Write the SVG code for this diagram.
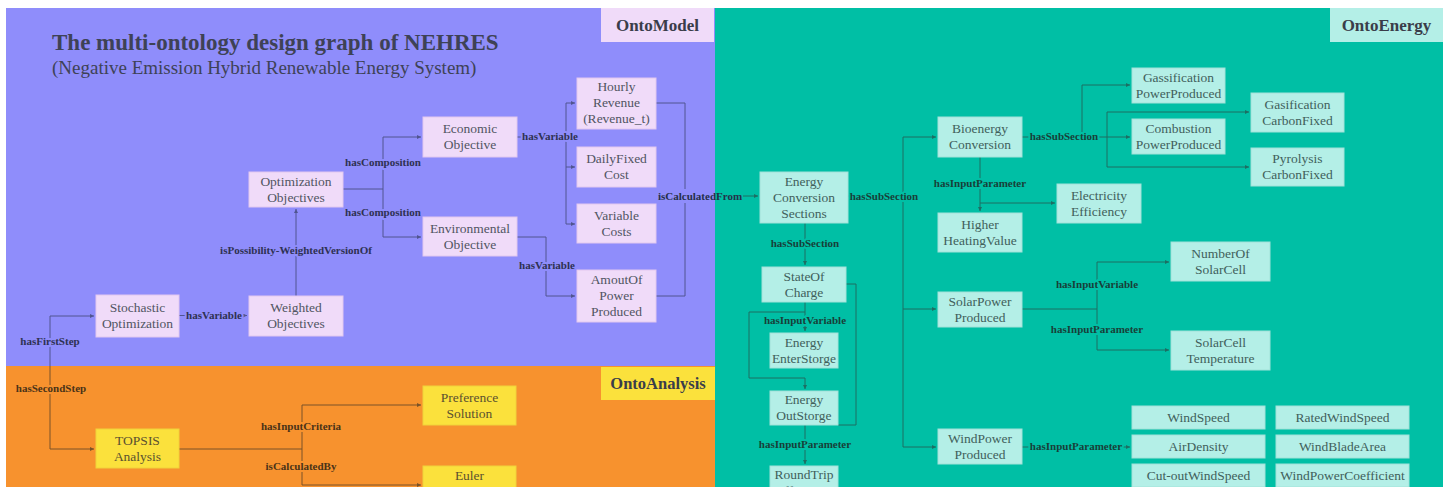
<svg xmlns="http://www.w3.org/2000/svg" width="1448" height="487" viewBox="0 0 1448 487">
<style>
text{font-family:"Liberation Serif","Times New Roman",serif}
.nt{font-size:13.5px;text-anchor:middle;fill:#505562}
.ntt{font-size:13.5px;text-anchor:middle;fill:#41605b}
.np{fill:#f0dbf9;stroke:#e2c8ef;stroke-width:1}
.ny{fill:#fbe13c;stroke:#f0d23a;stroke-width:1}
.nc{fill:#b4efe7;stroke:#a2e2d9;stroke-width:1}
.lb{font-size:11px;font-weight:bold;text-anchor:middle;paint-order:stroke;stroke-width:4px;stroke-linejoin:round}
.lp{fill:#2e3152;stroke:#8f8dfb}
.lo{fill:#4a3318;stroke:#f7922e}
.lt{fill:#183f39;stroke:#00bfa5}
.cp{fill:none;stroke:#505590;stroke-width:1}
.co{fill:none;stroke:#7a5328;stroke-width:1}
.ct{fill:none;stroke:#1d6e63;stroke-width:1}
.ttl{font-size:17px;font-weight:bold;text-anchor:middle;fill:#3a3d4a}
</style>
<defs>
<marker id="ap" viewBox="0 0 6 6" refX="6" refY="3" markerWidth="4" markerHeight="4" orient="auto"><path d="M0,0L6,3L0,6z" fill="#505590"/></marker>
<marker id="ao" viewBox="0 0 6 6" refX="6" refY="3" markerWidth="4" markerHeight="4" orient="auto"><path d="M0,0L6,3L0,6z" fill="#7a5328"/></marker>
<marker id="at" viewBox="0 0 6 6" refX="6" refY="3" markerWidth="4" markerHeight="4" orient="auto"><path d="M0,0L6,3L0,6z" fill="#1d6e63"/></marker>
</defs>
<rect width="1448" height="487" fill="#ffffff"/>
<g id="regions">
<rect x="6" y="8" width="709" height="358" fill="#8f8dfb"/>
<rect x="6" y="366" width="709" height="121" fill="#f7922e"/>
<rect x="715" y="8" width="728" height="479" fill="#00bfa5"/>
</g>
<g id="region-labels">
<g id="OntoModel"><rect x="601" y="8" width="113" height="34" fill="#f0dbf9"/><text class="ttl" x="657.5" y="31">OntoModel</text></g>
<g id="OntoEnergy"><rect x="1330" y="8" width="113" height="34" fill="#b4efe7"/><text class="ttl" x="1386.5" y="31">OntoEnergy</text></g>
<g id="OntoAnalysis"><rect x="601" y="367" width="114" height="33" fill="#fbe13c"/><text class="ttl" x="658" y="389" style="font-size:16.5px">OntoAnalysis</text></g>
</g>
<g id="title">
<text x="52" y="50" style="font-size:23px;font-weight:bold;fill:#3e4256">The multi-ontology design graph of NEHRES</text>
<text x="52" y="74" style="font-size:19px;fill:#3e4256">(Negative Emission Hybrid Renewable Energy System)</text>
</g>
<g id="connectors">
<path class="cp" d="M343,189H383V137H421" marker-end="url(#ap)"/>
<path class="cp" d="M383,189V237H421" marker-end="url(#ap)"/>
<path class="cp" d="M517,137H566V103H575" marker-end="url(#ap)"/>
<path class="cp" d="M566,137V224H575" marker-end="url(#ap)"/>
<path class="cp" d="M566,167H575" marker-end="url(#ap)"/>
<path class="cp" d="M517,237H546V296H575" marker-end="url(#ap)"/>
<path class="cp" d="M656,103H685V296H656"/>
<path class="cp" d="M685,196H715"/>
<path class="ct" d="M715,196H758" marker-end="url(#at)"/>
<path class="cp" d="M296,296V209" marker-end="url(#ap)"/>
<path class="cp" d="M179,315.5H247" marker-end="url(#ap)"/>
<path class="cp" d="M50,316H94" marker-end="url(#ap)"/>
<path class="cp" d="M50,316V366"/>
<path class="co" d="M50,366V449H94" marker-end="url(#ao)"/>
<path class="co" d="M179,449H302V405H421" marker-end="url(#ao)"/>
<path class="co" d="M302,449V485H421" marker-end="url(#ao)"/>
<path class="ct" d="M848,196H903V137H936" marker-end="url(#at)"/>
<path class="ct" d="M903,196V447H936" marker-end="url(#at)"/>
<path class="ct" d="M903,309H936" marker-end="url(#at)"/>
<path class="ct" d="M805,223V265" marker-end="url(#at)"/>
<path class="ct" d="M805,302V331" marker-end="url(#at)"/>
<path class="ct" d="M805,312H749V378H805V389" marker-end="url(#at)"/>
<path class="ct" d="M846,284H856V425H838"/>
<path class="ct" d="M805,425V464" marker-end="url(#at)"/>
<path class="ct" d="M1022,137H1130" marker-end="url(#at)"/>
<path class="ct" d="M1082,137V85H1130" marker-end="url(#at)"/>
<path class="ct" d="M1107,137V112H1249" marker-end="url(#at)"/>
<path class="ct" d="M1107,137V167H1249" marker-end="url(#at)"/>
<path class="ct" d="M980,157V211" marker-end="url(#at)"/>
<path class="ct" d="M980,203H1055" marker-end="url(#at)"/>
<path class="ct" d="M1022,309H1097V262H1169" marker-end="url(#at)"/>
<path class="ct" d="M1097,309V350H1169" marker-end="url(#at)"/>
<path class="ct" d="M1022,447H1130" marker-end="url(#at)"/>
<g id="connector-labels">
<text class="lb lp" x="383" y="166">hasComposition</text>
<text class="lb lp" x="383" y="216">hasComposition</text>
<text class="lb lp" x="550" y="140">hasVariable</text>
<text class="lb lp" x="547" y="269">hasVariable</text>
<rect x="657" y="189" width="58" height="14" fill="#8f8dfb"/>
<rect x="715" y="189" width="28" height="14" fill="#00bfa5"/>
<text class="lb" x="700" y="200" style="fill:#24304a">isCalculatedFrom</text>
<text class="lb lp" x="296" y="254">isPossibility-WeightedVersionOf</text>
<text class="lb lp" x="214" y="319">hasVariable</text>
<text class="lb lp" x="50" y="345">hasFirstStep</text>
<text class="lb lo" x="51" y="392">hasSecondStep</text>
<text class="lb lo" x="301" y="430">hasInputCriteria</text>
<text class="lb lo" x="301" y="470">isCalculatedBy</text>
<text class="lb lt" x="884" y="200">hasSubSection</text>
<text class="lb lt" x="805" y="247">hasSubSection</text>
<text class="lb lt" x="805" y="324">hasInputVariable</text>
<text class="lb lt" x="805" y="448">hasInputParameter</text>
<text class="lb lt" x="1064" y="140">hasSubSection</text>
<text class="lb lt" x="980" y="187">hasInputParameter</text>
<text class="lb lt" x="1097" y="288">hasInputVariable</text>
<text class="lb lt" x="1097" y="333">hasInputParameter</text>
<text class="lb lt" x="1076" y="450">hasInputParameter</text>
</g>
</g>
<g id="n-opt"><rect class="np" x="249" y="172" width="94" height="35"/><text class="nt" x="296" y="186">Optimization<tspan x="296" dy="16">Objectives</tspan></text></g>
<g id="n-eco"><rect class="np" x="423" y="117" width="94" height="40"/><text class="nt" x="470" y="133">Economic<tspan x="470" dy="16">Objective</tspan></text></g>
<g id="n-env"><rect class="np" x="423" y="217" width="94" height="39"/><text class="nt" x="470" y="232.5">Environmental<tspan x="470" dy="16">Objective</tspan></text></g>
<g id="n-hourly"><rect class="np" x="577" y="78" width="79" height="51"/><text class="nt" x="616.5" y="91">Hourly<tspan x="616.5" dy="16">Revenue</tspan><tspan x="616.5" dy="16">(Revenue_t)</tspan></text></g>
<g id="n-daily"><rect class="np" x="577" y="147" width="79" height="40"/><text class="nt" x="616.5" y="163">DailyFixed<tspan x="616.5" dy="16">Cost</tspan></text></g>
<g id="n-var"><rect class="np" x="577" y="204" width="79" height="39"/><text class="nt" x="616.5" y="219.5">Variable<tspan x="616.5" dy="16">Costs</tspan></text></g>
<g id="n-amout"><rect class="np" x="577" y="270" width="79" height="52"/><text class="nt" x="616.5" y="284">AmoutOf<tspan x="616.5" dy="16">Power</tspan><tspan x="616.5" dy="16">Produced</tspan></text></g>
<g id="n-stoch"><rect class="np" x="96" y="295" width="83" height="42"/><text class="nt" x="137.5" y="312">Stochastic<tspan x="137.5" dy="16">Optimization</tspan></text></g>
<g id="n-weighted"><rect class="np" x="249" y="296" width="94" height="40"/><text class="nt" x="296" y="312">Weighted<tspan x="296" dy="16">Objectives</tspan></text></g>
<g id="n-pref"><rect class="ny" x="423" y="386" width="93" height="39"/><text class="nt" x="469.5" y="401.5" style="fill:#5a5030">Preference<tspan x="469.5" dy="16">Solution</tspan></text></g>
<g id="n-topsis"><rect class="ny" x="96" y="429" width="83" height="39"/><text class="nt" x="137.5" y="444.5" style="fill:#5a5030">TOPSIS<tspan x="137.5" dy="16">Analysis</tspan></text></g>
<g id="n-euler"><rect class="ny" x="423" y="466" width="93" height="30"/><text class="nt" x="469.5" y="480" style="fill:#5a5030">Euler</text></g>
<g id="n-ecs"><rect class="nc" x="760" y="172" width="88" height="51"/><text class="ntt" x="804" y="185.5">Energy<tspan x="804" dy="16">Conversion</tspan><tspan x="804" dy="16">Sections</tspan></text></g>
<g id="n-bio"><rect class="nc" x="938" y="117" width="84" height="40"/><text class="ntt" x="980" y="133">Bioenergy<tspan x="980" dy="16">Conversion</tspan></text></g>
<g id="n-hhv"><rect class="nc" x="938" y="213" width="84" height="39"/><text class="ntt" x="980" y="228.5">Higher<tspan x="980" dy="16">HeatingValue</tspan></text></g>
<g id="n-elec"><rect class="nc" x="1057" y="184" width="84" height="39"/><text class="ntt" x="1099" y="199.5">Electricity<tspan x="1099" dy="16">Efficiency</tspan></text></g>
<g id="n-gpp"><rect class="nc" x="1132" y="68" width="93" height="35"/><text class="ntt" x="1178.5" y="81.5">Gassification<tspan x="1178.5" dy="16">PowerProduced</tspan></text></g>
<g id="n-cpp"><rect class="nc" x="1132" y="119" width="93" height="35"/><text class="ntt" x="1178.5" y="132.5">Combustion<tspan x="1178.5" dy="16">PowerProduced</tspan></text></g>
<g id="n-gcf"><rect class="nc" x="1251" y="93" width="93" height="39"/><text class="ntt" x="1297.5" y="108.5">Gasification<tspan x="1297.5" dy="16">CarbonFixed</tspan></text></g>
<g id="n-pcf"><rect class="nc" x="1251" y="148" width="93" height="38"/><text class="ntt" x="1297.5" y="163">Pyrolysis<tspan x="1297.5" dy="16">CarbonFixed</tspan></text></g>
<g id="n-soc"><rect class="nc" x="762" y="267" width="84" height="35"/><text class="ntt" x="804" y="280.5">StateOf<tspan x="804" dy="16">Charge</tspan></text></g>
<g id="n-ees"><rect class="nc" x="770" y="333" width="68" height="35"/><text class="ntt" x="804" y="346.5">Energy<tspan x="804" dy="16">EnterStorge</tspan></text></g>
<g id="n-eos"><rect class="nc" x="770" y="391" width="68" height="34"/><text class="ntt" x="804" y="404">Energy<tspan x="804" dy="16">OutStorge</tspan></text></g>
<g id="n-rte"><rect class="nc" x="770" y="466" width="68" height="30"/><text class="ntt" x="804" y="479">RoundTrip<tspan x="804" dy="16">Efficiency</tspan></text></g>
<g id="n-spp"><rect class="nc" x="938" y="292" width="84" height="35"/><text class="ntt" x="980" y="305.5">SolarPower<tspan x="980" dy="16">Produced</tspan></text></g>
<g id="n-wpp"><rect class="nc" x="938" y="429" width="84" height="35"/><text class="ntt" x="980" y="442.5">WindPower<tspan x="980" dy="16">Produced</tspan></text></g>
<g id="n-nsc"><rect class="nc" x="1171" y="242" width="99" height="39"/><text class="ntt" x="1220.5" y="257.5">NumberOf<tspan x="1220.5" dy="16">SolarCell</tspan></text></g>
<g id="n-sct"><rect class="nc" x="1171" y="331" width="99" height="39"/><text class="ntt" x="1220.5" y="346.5">SolarCell<tspan x="1220.5" dy="16">Temperature</tspan></text></g>
<g id="n-ws"><rect class="nc" x="1132" y="406" width="133" height="23"/><text class="ntt" x="1198.5" y="422">WindSpeed</text></g>
<g id="n-ad"><rect class="nc" x="1132" y="435" width="133" height="23"/><text class="ntt" x="1198.5" y="451">AirDensity</text></g>
<g id="n-cows"><rect class="nc" x="1132" y="464" width="133" height="23"/><text class="ntt" x="1198.5" y="480">Cut-outWindSpeed</text></g>
<g id="n-rws"><rect class="nc" x="1276" y="406" width="133" height="23"/><text class="ntt" x="1342.5" y="422">RatedWindSpeed</text></g>
<g id="n-wba"><rect class="nc" x="1276" y="435" width="133" height="23"/><text class="ntt" x="1342.5" y="451">WindBladeArea</text></g>
<g id="n-wpc"><rect class="nc" x="1276" y="464" width="133" height="23"/><text class="ntt" x="1342.5" y="480">WindPowerCoefficient</text></g>
</svg>
